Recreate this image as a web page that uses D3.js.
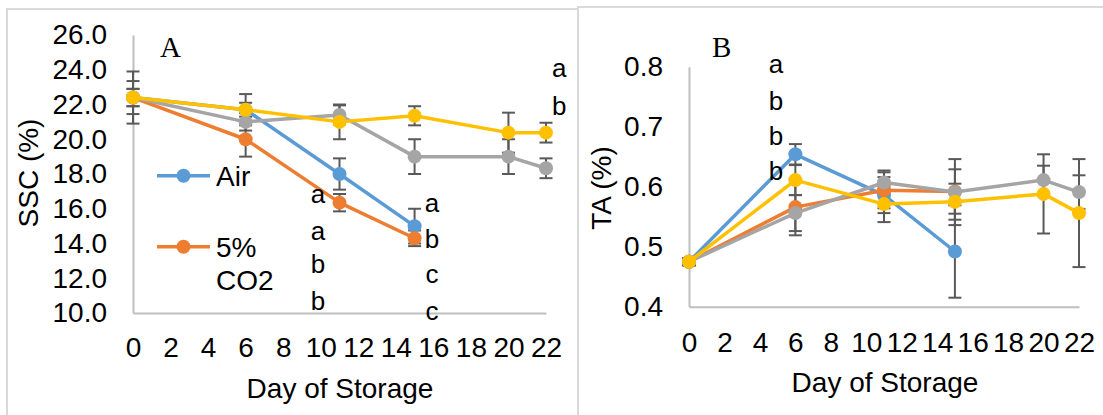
<!DOCTYPE html>
<html>
<head>
<meta charset="utf-8">
<script src="https://cdn.jsdelivr.net/npm/d3@7"></script>
<style>
  html, body { margin: 0; padding: 0; background: #ffffff; }
  svg { display: block; }
</style>
</head>
<body>
<svg id="chart" width="1103" height="415"></svg>
<script>
// ---------------- DATA ----------------
const days = [0, 6, 11, 15, 20, 22];
const xTicks = [0, 2, 4, 6, 8, 10, 12, 14, 16, 18, 20, 22];
const seriesNames = ["Air", "5% CO2", "Series3", "Series4"];
const seriesColors = ["#5B9BD5", "#ED7D31", "#A5A5A5", "#FFC000"];

// Panel A: SSC (%)
const sscTicks = [10, 12, 14, 16, 18, 20, 22, 24, 26];
const sscAir    = [22.4, 21.7, 18.0, 15.0, null, null];
const sscCO2    = [22.4, 20.0, 16.35, 14.3, null, null];
const sscS3     = [22.4, 21.0, 21.4, 19.0, 19.0, 18.33];
const sscS4     = [22.4, 21.7, 21.0, 21.35, 20.38, 20.38];
const sscAirErr = [1.5, 0.9, 0.9, 1.0, null, null];
const sscCO2Err = [0.95, 1.0, 0.5, 0.45, null, null];
const sscS3Err  = [0.5, 0.5, 0.55, 1.0, 1.0, 0.57];
const sscS4Err  = [0.5, 0.4, 1.0, 0.55, 1.15, 0.57];
// letters: [day, value, label]
const sscLetters = [
  [9.85, 16.33, "a"], [9.85, 14.2, "a"], [9.85, 12.3, "b"], [9.85, 10.17, "b"],
  [15.93, 15.81, "a"], [15.93, 13.74, "b"], [15.93, 11.73, "c"], [15.93, 9.6, "c"],
  [22.7, 23.58, "a"], [22.7, 21.4, "b"]
];

// Panel B: TA (%)
const taTicks = [0.4, 0.5, 0.6, 0.7, 0.8];
const taAir    = [0.475, 0.654, 0.586, 0.492, null, null];
const taCO2    = [0.475, 0.566, 0.594, 0.592, null, null];
const taS3     = [0.475, 0.556, 0.607, 0.591, 0.611, 0.591];
const taS4     = [0.475, 0.611, 0.571, 0.575, 0.588, 0.556];
const taAirErr = [0.006, 0.017, 0.03, 0.077, null, null];
const taCO2Err = [0.006, 0.047, 0.03, 0.037, null, null];
const taS3Err  = [0.006, 0.03, 0.02, 0.055, 0.024, 0.028];
const taS4Err  = [0.006, 0.025, 0.03, 0.03, 0.066, 0.09];
const taLetters = [
  [4.9, 0.7895, "a"], [4.9, 0.728, "b"], [4.9, 0.6695, "b"], [4.9, 0.611, "b"]
];

// ---------------- DRAW ----------------
const svg = d3.select("#chart");
const FONT = "'Liberation Sans', Arial, sans-serif";
const ERR_COLOR = "#595959";

svg.append("rect").attr("width", 1103).attr("height", 415).attr("fill", "#fff");

// panel frames
svg.append("rect").attr("x", 7).attr("y", 9).attr("width", 571).attr("height", 430)
  .attr("fill", "none").attr("stroke", "#d9d9d9").attr("stroke-width", 2);
svg.append("rect").attr("x", 578).attr("y", 7).attr("width", 560).attr("height", 430)
  .attr("fill", "none").attr("stroke", "#d9d9d9").attr("stroke-width", 2);

function drawPanel(cfg) {
  const x = d3.scaleLinear().domain([0, 22]).range(cfg.xRange);
  const y = d3.scaleLinear().domain(cfg.yDomain).range(cfg.yRange);
  const g = svg.append("g");

  // axes
  const yAxis = d3.axisLeft(y).tickValues(cfg.yTicks).tickSize(0).tickPadding(26)
    .tickFormat(cfg.yFormat);
  const yg = g.append("g").attr("transform", `translate(${cfg.xRange[0]},0)`).call(yAxis);
  const xAxis = d3.axisBottom(x).tickValues(xTicks).tickSize(0).tickPadding(cfg.xPad)
    .tickFormat(d3.format("d"));
  const xg = g.append("g").attr("transform", `translate(0,${cfg.yRange[0]})`).call(xAxis);
  [yg, xg].forEach(a => {
    a.select(".domain").attr("stroke", "#bfbfbf").attr("stroke-width", 2);
    a.selectAll("text").attr("font-family", FONT).attr("font-size", 28).attr("fill", "#000");
  });

  // axis titles
  g.append("text")
    .attr("transform", `translate(${cfg.yTitlePos[0]},${cfg.yTitlePos[1]}) rotate(-90)`)
    .attr("text-anchor", "middle").attr("font-family", FONT).attr("font-size", 28)
    .text(cfg.yTitle);
  g.append("text").attr("x", cfg.xTitlePos[0]).attr("y", cfg.xTitlePos[1])
    .attr("text-anchor", "middle").attr("font-family", FONT).attr("font-size", 28)
    .text("Day of Storage");

  // panel letter
  g.append("text").attr("x", cfg.panelPos[0]).attr("y", cfg.panelPos[1])
    .attr("font-family", "'Liberation Serif', 'Times New Roman', serif").attr("font-size", 29)
    .text(cfg.panelLabel);

  const series = cfg.series.map((vals, i) => ({
    name: seriesNames[i], color: seriesColors[i],
    pts: days.map((d, j) => ({ d, v: vals[j], e: cfg.errs[i][j] }))
  }));

  // error bars
  const eg = g.append("g").attr("stroke", ERR_COLOR).attr("stroke-width", 2);
  series.forEach(s => {
    s.pts.filter(p => p.v != null && p.e != null).forEach(p => {
      const cx = x(p.d), y1 = y(p.v + p.e), y2 = y(p.v - p.e);
      eg.append("line").attr("x1", cx).attr("x2", cx).attr("y1", y1).attr("y2", y2);
      eg.append("line").attr("x1", cx - 6.5).attr("x2", cx + 6.5).attr("y1", y1).attr("y2", y1);
      eg.append("line").attr("x1", cx - 6.5).attr("x2", cx + 6.5).attr("y1", y2).attr("y2", y2);
    });
  });

  // lines + markers
  const line = d3.line().defined(p => p.v != null).x(p => x(p.d)).y(p => y(p.v));
  series.forEach(s => {
    g.append("path").datum(s.pts).attr("d", line).attr("fill", "none")
      .attr("stroke", s.color).attr("stroke-width", 3.5).attr("stroke-linejoin", "round");
    g.selectAll(null).data(s.pts.filter(p => p.v != null)).enter().append("circle")
      .attr("cx", p => x(p.d)).attr("cy", p => y(p.v)).attr("r", 7).attr("fill", s.color);
  });

  // significance letters
  g.selectAll(null).data(cfg.letters).enter().append("text")
    .attr("x", d => x(d[0])).attr("y", d => y(d[1]))
    .attr("text-anchor", "middle").attr("font-family", FONT).attr("font-size", 26)
    .text(d => d[2]);
  return { x, y, g };
}

drawPanel({
  xRange: [133, 546], yDomain: [10, 26], yRange: [313, 35], yTicks: sscTicks,
  yFormat: d3.format(".1f"), xPad: 24,
  yTitle: "SSC (%)", yTitlePos: [38, 173], xTitlePos: [340, 398],
  panelLabel: "A", panelPos: [160, 57],
  series: [sscAir, sscCO2, sscS3, sscS4],
  errs: [sscAirErr, sscCO2Err, sscS3Err, sscS4Err],
  letters: sscLetters
});

drawPanel({
  xRange: [689, 1079], yDomain: [0.4, 0.8], yRange: [306.7, 66.7], yTicks: taTicks,
  yFormat: d3.format(".1f"), xPad: 25,
  yTitle: "TA (%)", yTitlePos: [611, 188], xTitlePos: [885, 392],
  panelLabel: "B", panelPos: [712, 57],
  series: [taAir, taCO2, taS3, taS4],
  errs: [taAirErr, taCO2Err, taS3Err, taS4Err],
  letters: taLetters
});

// legend (panel A)
const legendItems = [
  { name: seriesNames[0], color: seriesColors[0], lines: ["Air"], ly: 175.7 },
  { name: seriesNames[1], color: seriesColors[1], lines: ["5%", "CO2"], ly: 246.7 }
];
const lg = svg.append("g");
legendItems.forEach(it => {
  lg.append("line").attr("x1", 157).attr("x2", 210).attr("y1", it.ly).attr("y2", it.ly)
    .attr("stroke", it.color).attr("stroke-width", 3.5);
  lg.append("circle").attr("cx", 183.5).attr("cy", it.ly).attr("r", 7).attr("fill", it.color);
  const t = lg.append("text").attr("x", 216).attr("y", it.ly + 10)
    .attr("font-family", FONT).attr("font-size", 28);
  it.lines.forEach((s, k) => {
    t.append("tspan").attr("x", 216).attr("dy", k === 0 ? 0 : 33.5).text(s);
  });
});
</script>
</body>
</html>
